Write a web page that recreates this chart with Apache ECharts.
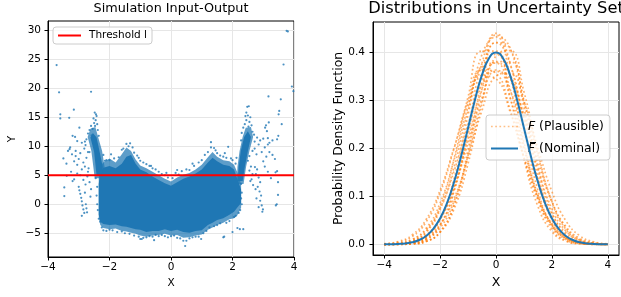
<!DOCTYPE html>
<html lang="en">
<head>
<meta charset="UTF-8">
<title>Simulation Input-Output / Uncertainty Set</title>
<script src="https://cdn.jsdelivr.net/npm/echarts@6/dist/echarts.min.js"></script>
<style>
  html, body { margin: 0; padding: 0; background: #fff; }
  #main { width: 621px; height: 297px; }
</style>
</head>
<body>
<div id="main"></div>
<script>
// ---------- left panel: simulation input-output ----------
// outline of the dense blue mass: solid part and the speckled fringe around it
var coreX        = [-2.35,-2.3,-2.2,-2.0,-1.8,-1.6,-1.45,-1.3,-1.15,-1.0,-0.8,-0.6,-0.4,-0.2,0.0,0.2,0.4,0.6,0.8,1.0,1.2,1.35,1.5,1.7,1.9,2.05,2.15,2.28];
var solidTop     = [3.5,5.5,6.3,6.6,6.2,7.0,8.2,8.5,7.0,6.0,5.5,4.8,4.2,3.6,3.2,3.8,4.4,4.8,5.3,6.0,7.2,8.0,7.4,6.8,6.6,6.0,4.5,2.5];
var solidBottom  = [-1.8,-3.0,-3.4,-3.6,-3.5,-3.8,-3.9,-4.1,-4.3,-4.4,-4.8,-4.6,-4.6,-4.3,-4.6,-4.4,-4.8,-4.9,-4.6,-4.5,-3.6,-3.2,-2.7,-2.4,-1.8,-1.3,-0.6,0.2];
var fringeTop    = [4.6,6.6,7.2,7.9,7.2,8.6,9.8,9.2,7.7,6.7,6.2,5.6,5.0,4.4,3.9,4.6,5.1,5.4,6.0,6.8,8.1,9.0,8.2,7.6,7.4,6.8,5.6,3.5];
var fringeBottom = [-2.3,-3.6,-4.1,-4.3,-4.2,-4.6,-4.7,-4.9,-5.1,-5.4,-5.6,-5.4,-5.3,-5.1,-5.4,-5.3,-5.8,-5.7,-5.4,-5.2,-4.4,-4.0,-3.6,-3.2,-2.6,-2.4,-2.0,-0.6];
// the two steep bands near |x| = 2.4
var leftSpikeSolid   = [[-2.42,5.0],[-2.5,9.0],[-2.62,11.5],[-2.54,12.3],[-2.42,11.5],[-2.32,9.0],[-2.22,6.4],[-2.25,5.0]];
var leftSpikeFringe  = [[-2.48,4.5],[-2.59,9.2],[-2.71,11.6],[-2.62,13.0],[-2.46,13.3],[-2.37,11.6],[-2.24,9.2],[-2.16,6.4],[-2.2,4.5]];
var rightSpikeSolid  = [[2.17,4.0],[2.2,6.4],[2.27,9.2],[2.38,11.6],[2.5,12.6],[2.6,11.6],[2.5,9.2],[2.4,6.4],[2.33,4.0]];
var rightSpikeFringe = [[2.14,3.5],[2.16,6.4],[2.23,9.2],[2.33,11.6],[2.43,13.2],[2.6,13.3],[2.67,11.6],[2.55,9.2],[2.44,6.4],[2.36,3.5]];

// single points
var leftWing = [[-3.5,7.9],[-3.3,9.5],[-3.28,9.8],[-3.35,9.2],[-3.22,8.6],[-3.1,8.3],[-3.0,7.8],[-2.95,8.8],[-2.85,7.2],[-2.8,6.5],
  [-2.9,6.0],[-3.05,6.8],[-3.15,7.4],[-2.75,8.0],[-2.7,9.0],[-2.78,10.2],[-3.4,7.0],[-3.39,4.9],[-3.2,4.0],[-3.15,4.3],
  [-3.47,2.9],[-3.47,1.4],[-3.0,3.0],[-2.98,2.4],[-2.95,1.8],[-2.92,1.1],[-2.9,0.5],[-2.88,-0.2],[-2.85,-0.9],[-2.82,-1.5],
  [-2.9,-2.0],[-2.77,0.0],[-2.75,-0.7],[-2.73,-1.4],[-2.8,2.0],[-2.78,3.4],[-2.85,4.2],[-2.95,5.0],[-3.05,5.3],[-2.7,5.6],
  [-2.72,4.8],[-2.68,6.2],[-2.65,3.8],[-2.6,2.6],[-2.62,1.3],[-3.1,9.2],[-2.82,9.6],[-3.25,5.6]];
var rightWing = [[2.8,11.5],[2.9,11.0],[3.0,11.3],[2.85,10.3],[3.05,9.8],[3.15,10.3],[3.2,9.0],[3.3,8.5],[3.38,7.8],[3.45,11.2],
  [3.1,8.2],[2.95,9.0],[2.78,8.6],[2.72,9.6],[3.0,7.4],[2.73,6.4],[2.8,6.0],[2.76,5.2],[2.85,4.6],[2.9,3.8],
  [2.82,3.0],[2.88,2.2],[2.93,1.5],[2.9,0.6],[2.95,-0.2],[2.99,-0.9],[2.97,-1.3],[2.85,-0.5],[2.78,1.0],[2.75,2.6],
  [3.4,5.5],[3.45,5.7],[3.48,3.8],[3.48,1.6],[3.44,0.0],[3.41,-0.2],[2.6,6.5],[2.65,5.2],[2.62,4.3],[2.55,5.8],
  [2.58,4.0],[2.67,3.3],[3.15,5.6],[3.25,4.5],[3.05,6.5]];
var edgeDots = [[-2.1,7.6],[-1.95,8.6],[-1.85,7.9],[-1.7,8.1],[-1.55,9.6],[-1.45,10.4],[-1.38,10.0],[-1.33,10.5],[-1.25,9.8],[-1.2,8.9],
  [-1.1,8.4],[-1.0,7.5],[-0.9,7.2],[-0.8,6.9],[-0.7,6.6],[-0.6,6.2],[-0.5,6.0],[-0.4,5.6],[-0.3,5.2],[-0.2,5.0],
  [-0.1,4.6],[0.05,4.5],[0.15,5.4],[0.25,5.1],[0.35,5.7],[0.5,6.0],[0.6,5.9],[0.75,6.6],[0.9,7.2],[1.0,7.6],
  [1.1,8.5],[1.2,9.0],[1.3,10.7],[1.3,9.8],[1.4,9.7],[1.5,8.8],[1.6,8.4],[1.7,8.2],[1.8,8.0],[1.86,9.9],
  [1.95,7.9],[2.0,7.6],[1.75,8.8],[1.45,9.3],[-1.6,9.4],[-2.0,7.6],[-0.15,5.4],[0.2,5.9],[0.7,7.0],[-0.65,6.6],[-1.05,8.0],
  [-2.3,-3.0],[-2.25,-4.0],[-2.2,-4.5],[-2.1,-4.6],[-2.0,-4.4],[-1.9,-4.5],[-1.75,-4.8],[-1.6,-4.7],[-1.5,-5.0],[-1.35,-5.1],
  [-1.2,-5.4],[-1.05,-5.6],[-0.95,-6.0],[-0.9,-5.8],[-0.8,-5.7],[-0.7,-5.5],[-0.6,-5.6],[-0.5,-5.3],[-0.4,-5.5],[-0.3,-5.3],
  [-0.2,-5.5],[-0.1,-5.7],[0.0,-5.5],[0.1,-5.4],[0.2,-5.8],[0.3,-5.9],[0.4,-6.3],[0.46,-7.2],[0.5,-6.3],[0.6,-5.9],
  [0.7,-5.7],[0.8,-5.6],[0.9,-5.6],[0.98,-6.0],[1.05,-5.0],[1.15,-4.6],[1.25,-4.0],[1.4,-3.8],[1.5,-3.6],[1.6,-3.3],
  [1.7,-5.7],[1.73,-5.6],[1.8,-3.2],[1.9,-2.9],[2.0,-4.8],[2.05,-2.2],[2.1,-2.0],[2.16,-4.1],[2.2,-1.5],[2.24,-4.3],
  [2.35,-4.3],[-0.55,-6.2],[-1.0,-6.0],
  [2.28,1.0],[2.3,2.0],[2.25,-1.0],[2.3,0.0],[2.28,3.5],[-2.4,0.0],[-2.42,1.5],[-2.38,-1.0],[-2.4,3.0],[-2.45,4.5],[-2.35,-2.5],
  [-2.6,13.5],[-2.5,14.0],[-2.45,14.5],[-2.42,15.2],[-2.48,15.8],[-2.4,13.8],[-2.55,13.0],[-2.65,12.8],[-2.7,12.2],[-2.38,12.8],
  [-2.52,14.8],[-2.44,15.5],[-2.58,11.9],[-2.35,11.8],[-2.75,11.2],[-2.47,13.5],[-2.8,10.8],[-2.65,9.0],[-2.2,8.5],[-2.15,7.5],
  [2.4,13.8],[2.45,14.5],[2.5,15.3],[2.48,16.8],[2.53,16.9],[2.45,15.8],[2.55,14.2],[2.62,13.6],[2.35,13.2],[2.65,12.5],
  [2.7,12.0],[2.58,15.0],[2.42,15.2],[2.52,13.4],[2.3,12.3],[2.28,11.0],[2.72,10.8],[2.65,9.2],[2.13,8.0],[2.1,7.0],[2.5,7.5],[2.55,8.3]];
var farDots = [[-3.72,24.0],[-3.64,19.3],[-3.6,15.5],[-3.6,14.8],[-3.31,14.9],[-3.16,16.3],[-2.98,13.2],[-2.6,19.4],[-3.2,11.8],[-3.12,11.6],
  [-3.05,10.9],[-2.9,10.6],[3.76,29.9],[3.8,29.8],[3.66,24.1],[3.93,20.3],[3.98,19.5],[3.17,18.6],[3.57,18.1],
  [3.52,16.1],[3.5,15.5],[3.6,13.8],[3.09,13.6],[3.06,13.2],[3.18,14.1],[3.49,11.8],[3.3,11.0],[3.2,10.6],[3.15,11.4],[3.12,12.6]];
var thresholdX = [-4, 4];
var thresholdY = 5;
var leftYTicks = [-5, 0, 5, 10, 15, 20, 25, 30];

// ---------- right panel: densities in the uncertainty set ----------
var densX = [-4,-3.5,-3,-2.5,-2,-1.5,-1,-0.5,0,0.5,1,1.5,2,2.5,3,3.5,4];
var plausible = [
  [0,0.0002,0.0020,0.0101,0.0392,0.1120,0.2400,0.3770,0.4384,0.3770,0.2400,0.1120,0.0392,0.0101,0.0020,0.0002,0],
  [0,0.0001,0.0012,0.0065,0.0259,0.0804,0.1868,0.3229,0.4191,0.4072,0.2963,0.1614,0.0660,0.0201,0.0046,0.0008,0.0001],
  [0.0002,0.0014,0.0069,0.0267,0.0789,0.1781,0.3063,0.4017,0.4017,0.3063,0.1781,0.0789,0.0267,0.0069,0.0014,0.0002,0],
  [0.0002,0.0010,0.0049,0.0177,0.0514,0.1190,0.2197,0.3227,0.3782,0.3533,0.2630,0.1564,0.0739,0.0279,0.0084,0.0020,0.0004],
  [0.0010,0.0046,0.0162,0.0465,0.1069,0.1994,0.2993,0.3631,0.3555,0.2806,0.1790,0.0920,0.0382,0.0129,0.0035,0.0007,0.0001],
  [0,0.0002,0.0012,0.0064,0.0247,0.0735,0.1677,0.2927,0.3921,0.4027,0.3170,0.1909,0.0886,0.0314,0.0085,0.0019,0.0003],
  [0.0001,0.0005,0.0030,0.0145,0.0514,0.1361,0.2688,0.3948,0.4311,0.3507,0.2122,0.0957,0.0322,0.0080,0.0015,0.0002,0],
  [0.0003,0.0015,0.0060,0.0199,0.0538,0.1177,0.2101,0.3046,0.3594,0.3447,0.2691,0.1712,0.0882,0.0371,0.0126,0.0035,0.0008],
  [0,0.0001,0.0010,0.0061,0.0263,0.0836,0.1966,0.3410,0.4348,0.4088,0.2838,0.1450,0.0546,0.0151,0.0031,0.0004,0.0001],
  [0.0005,0.0025,0.0103,0.0333,0.0857,0.1756,0.2851,0.3680,0.3765,0.3058,0.1972,0.1008,0.0410,0.0132,0.0034,0.0007,0.0001],
  [0.0015,0.0061,0.0195,0.0517,0.1124,0.2006,0.2930,0.3505,0.3437,0.2761,0.1815,0.0979,0.0432,0.0156,0.0046,0.0012,0.0003],
  [0.0002,0.0009,0.0040,0.0142,0.0407,0.0951,0.1804,0.2784,0.3494,0.3567,0.2963,0.2000,0.1098,0.0491,0.0178,0.0053,0.0013],
  [0.0001,0.0004,0.0024,0.0115,0.0409,0.1108,0.2280,0.3552,0.4193,0.3753,0.2547,0.1311,0.0511,0.0151,0.0034,0.0006,0.0001],
  [0.0002,0.0015,0.0069,0.0252,0.0721,0.1604,0.2780,0.3752,0.3945,0.3230,0.2060,0.1023,0.0396,0.0119,0.0028,0.0005,0.0001],
  [0.0001,0.0005,0.0025,0.0103,0.0343,0.0897,0.1847,0.2985,0.3795,0.3795,0.2985,0.1847,0.0897,0.0343,0.0103,0.0025,0.0005],
  [0.0006,0.0027,0.0099,0.0304,0.0754,0.1522,0.2496,0.3335,0.3623,0.3201,0.2298,0.1344,0.0638,0.0247,0.0077,0.0020,0.0005]
];
var nominalX = [-4,-3.75,-3.5,-3.25,-3,-2.75,-2.5,-2.25,-2,-1.75,-1.5,-1.25,-1,-0.75,-0.5,-0.25,0,
  0.25,0.5,0.75,1,1.25,1.5,1.75,2,2.25,2.5,2.75,3,3.25,3.5,3.75,4];
var nominalPdf = [0.0001,0.0004,0.0009,0.0020,0.0044,0.0091,0.0175,0.0317,0.0540,0.0863,0.1295,0.1826,0.2420,0.3011,0.3521,0.3867,0.3989,
  0.3867,0.3521,0.3011,0.2420,0.1826,0.1295,0.0863,0.0540,0.0317,0.0175,0.0091,0.0044,0.0020,0.0009,0.0004,0.0001];
var rightXTicks = [-4, -2, 0, 2, 4];
var rightYTicks = [0, 0.1, 0.2, 0.3, 0.4];

var FONT = 'DejaVu Sans';
var BLUE = '#1f77b4';
var ORANGE = '#ff7f0e';
var RED = '#ff0000';
var DOTS = [1.7, 2.5];

function minus(v) { return String(v).replace('-', '\u2212'); }
function zip(xs, ys) { return xs.map(function (x, i) { return [x, ys[i]]; }); }
function band(xs, top, bottom) { return zip(xs, top).concat(zip(xs, bottom).reverse()); }

// filled outline drawn through the axis scales
function blob(verts, opacity) {
  return {
    type: 'custom', xAxisIndex: 0, yAxisIndex: 0, silent: true, data: [0],
    renderItem: function (params, api) {
      var pts = verts.map(function (p) { return api.coord(p); });
      return { type: 'polygon', shape: { points: pts }, style: { fill: BLUE, opacity: opacity } };
    }
  };
}

var axisText = { fontFamily: FONT, fontSize: 10.5, color: '#000' };

var series = [
  blob(band(coreX, fringeTop, fringeBottom), 0.72),
  blob(leftSpikeFringe, 0.72),
  blob(rightSpikeFringe, 0.72),
  blob(band(coreX, solidTop, solidBottom), 1),
  blob(leftSpikeSolid, 1),
  blob(rightSpikeSolid, 1)
];
[leftWing, rightWing, edgeDots, farDots].forEach(function (pts) {
  series.push({
    type: 'scatter', xAxisIndex: 0, yAxisIndex: 0, data: pts,
    symbolSize: 2.2, itemStyle: { color: BLUE }, silent: true
  });
});
series.push({
  type: 'line', name: 'Threshold l', xAxisIndex: 0, yAxisIndex: 0,
  data: thresholdX.map(function (x) { return [x, thresholdY]; }),
  symbol: 'none', lineStyle: { color: RED, width: 2 }, itemStyle: { color: RED }, z: 5
});
plausible.forEach(function (ys) {
  series.push({
    type: 'line', name: 'F (Plausible)', xAxisIndex: 1, yAxisIndex: 1,
    data: zip(densX, ys), smooth: true, symbol: 'none',
    lineStyle: { color: ORANGE, width: 1.7, type: DOTS, opacity: 0.6 },
    itemStyle: { color: ORANGE }
  });
});
series.push({
  type: 'line', name: 'F\u0304 (Nominal)', xAxisIndex: 1, yAxisIndex: 1,
  data: zip(nominalX, nominalPdf), smooth: true, symbol: 'none',
  lineStyle: { color: BLUE, width: 2 }, itemStyle: { color: BLUE }, z: 5
});

var legendBox = {
  orient: 'vertical', selectedMode: false,
  backgroundColor: 'rgba(255,255,255,0.8)', borderColor: '#cccccc', borderWidth: 1, borderRadius: 3,
  itemStyle: { opacity: 0 }
};

var chart = echarts.init(document.getElementById('main'), null, { renderer: 'canvas' });
chart.setOption({
  animation: false,
  backgroundColor: '#fff',
  title: [
    { text: 'Simulation Input-Output', left: 171, top: 2, textAlign: 'center', padding: 0,
      textStyle: { fontFamily: FONT, fontSize: 12.8, fontWeight: 'normal', color: '#000' } },
    { text: 'Distributions in Uncertainty Set', left: 496, top: 1, textAlign: 'center', padding: 0,
      textStyle: { fontFamily: FONT, fontSize: 16.3, fontWeight: 'normal', color: '#000' } }
  ],
  legend: [
    Object.assign({}, legendBox, {
      data: [{ name: 'Threshold l', lineStyle: { color: RED, width: 2 } }],
      left: 53, top: 27, itemWidth: 23, itemHeight: 10, padding: [3, 5, 3, 4],
      textStyle: { fontFamily: FONT, fontSize: 10.5, color: '#000', padding: [0, 0, 0, 3] } }),
    Object.assign({}, legendBox, {
      data: [
        { name: 'F (Plausible)', lineStyle: { color: ORANGE, width: 1.6, type: DOTS, opacity: 0.5 } },
        { name: 'F\u0304 (Nominal)', lineStyle: { color: BLUE, width: 2 } }
      ],
      left: 486, top: 115, itemWidth: 27, itemHeight: 12, itemGap: 7, padding: [4, 6, 4, 4],
      formatter: function (name) { return '{i|F}' + name.replace(/^F\u0304?/, ''); },
      textStyle: { fontFamily: FONT, fontSize: 12.4, color: '#000', lineHeight: 15, padding: [0, 0, 0, 5],
        rich: { i: { fontFamily: FONT, fontSize: 12.4, fontStyle: 'italic', color: '#000' } } } })
  ],
  // bar over the nominal F in the legend
  graphic: [
    { type: 'rect', z: 100, shape: { x: 530, y: 142, width: 6, height: 1 }, style: { fill: '#000' } }
  ],
  grid: [
    { left: 48, top: 21, width: 246, height: 236, show: true, borderColor: '#000', borderWidth: 1,
      containLabel: false, outerBoundsMode: 'none' },
    { left: 373, top: 22, width: 246, height: 233, show: true, borderColor: '#000', borderWidth: 1,
      containLabel: false, outerBoundsMode: 'none' }
  ],
  xAxis: [
    { type: 'value', gridIndex: 0, min: -4, max: 4, interval: 2,
      name: 'X', nameLocation: 'middle', nameGap: 21, nameTextStyle: axisText,
      axisLine: { show: true, onZero: false, lineStyle: { color: '#000' } },
      axisTick: { show: true, length: 3.5, lineStyle: { color: '#000' } },
      axisLabel: Object.assign({ margin: 5, formatter: minus }, axisText),
      splitLine: { show: true, lineStyle: { color: '#e6e6e6', width: 1 } } },
    { type: 'value', gridIndex: 1, min: -4.4, max: 4.4, splitNumber: 4,
      name: 'X', nameLocation: 'middle', nameGap: 20, nameTextStyle: Object.assign({}, axisText, { fontSize: 12.6 }),
      axisLine: { show: true, onZero: false, lineStyle: { color: '#000' } },
      axisTick: { show: true, length: 3.5, lineStyle: { color: '#000' }, customValues: rightXTicks },
      axisLabel: Object.assign({ margin: 5, formatter: minus, customValues: rightXTicks }, axisText),
      splitLine: { show: true, lineStyle: { color: '#e6e6e6', width: 1 } } }
  ],
  yAxis: [
    { type: 'value', gridIndex: 0, min: -9.1, max: 31.6, splitNumber: 8,
      name: 'Y', nameLocation: 'middle', nameGap: 30, nameTextStyle: axisText,
      axisLine: { show: true, onZero: false, lineStyle: { color: '#000' } },
      axisTick: { show: true, length: 3.5, lineStyle: { color: '#000' }, customValues: leftYTicks },
      axisLabel: Object.assign({ margin: 7, formatter: minus, customValues: leftYTicks }, axisText),
      splitLine: { show: true, lineStyle: { color: '#e6e6e6', width: 1 } } },
    { type: 'value', gridIndex: 1, min: -0.022, max: 0.462, splitNumber: 5,
      name: 'Probability Density Function', nameLocation: 'middle', nameGap: 27,
      nameTextStyle: Object.assign({}, axisText, { fontSize: 12.4 }),
      axisLine: { show: true, onZero: false, lineStyle: { color: '#000' } },
      axisTick: { show: true, length: 3.5, lineStyle: { color: '#000' }, customValues: rightYTicks },
      axisLabel: Object.assign({ margin: 8, formatter: function (v) { return v.toFixed(1); }, customValues: rightYTicks }, axisText),
      splitLine: { show: true, lineStyle: { color: '#e6e6e6', width: 1 } } }
  ],
  series: series
});
</script>
</body>
</html>
